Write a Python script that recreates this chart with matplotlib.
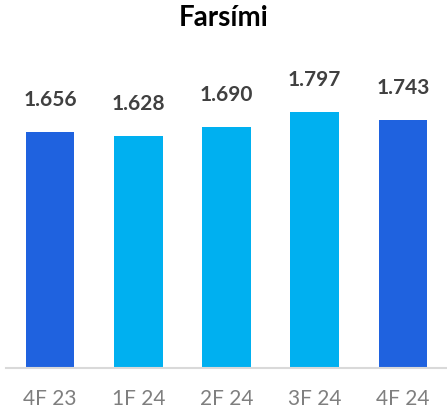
import matplotlib
matplotlib.use("Agg")
import matplotlib.pyplot as plt

categories = ["4F 23", "1F 24", "2F 24", "3F 24", "4F 24"]
values = [1656, 1628, 1690, 1797, 1743]
labels = ["1.656", "1.628", "1.690", "1.797", "1.743"]
colors = ["#1F62DF", "#00B0F0", "#00B0F0", "#00B0F0", "#1F62DF"]

W, H = 447, 412
fig = plt.figure(figsize=(W / 100, H / 100), dpi=100)
ax = fig.add_axes([6 / W, 1 - 368 / H, 441 / W, 285 / H])

x = list(range(len(categories)))
ax.bar(x, values, width=0.55, color=colors)
ax.set_xlim(-0.5, 4.5)
ax.set_ylim(0, 2000)

for xi, v, lab in zip(x, values, labels):
    ax.annotate(lab, (xi, v), xytext=(0, 22), textcoords="offset pixels",
                ha="center", va="bottom", fontsize=15, fontweight="bold",
                color="#404040", family="Lato")

for s in ["top", "right", "left"]:
    ax.spines[s].set_visible(False)
ax.spines["bottom"].set_color("#D9D9D9")
ax.spines["bottom"].set_linewidth(1.5)
ax.set_yticks([])
ax.set_xticks(x)
ax.set_xticklabels(categories, fontsize=15, color="#7F7F7F", family="Lato")
ax.tick_params(axis="x", length=0, pad=15)

fig.text(0.5, 1 - 18 / H, "Farsími", ha="center", va="center",
         fontsize=20, fontweight="bold", color="black", family="Lato")

fig.savefig("out.png", dpi=100)
